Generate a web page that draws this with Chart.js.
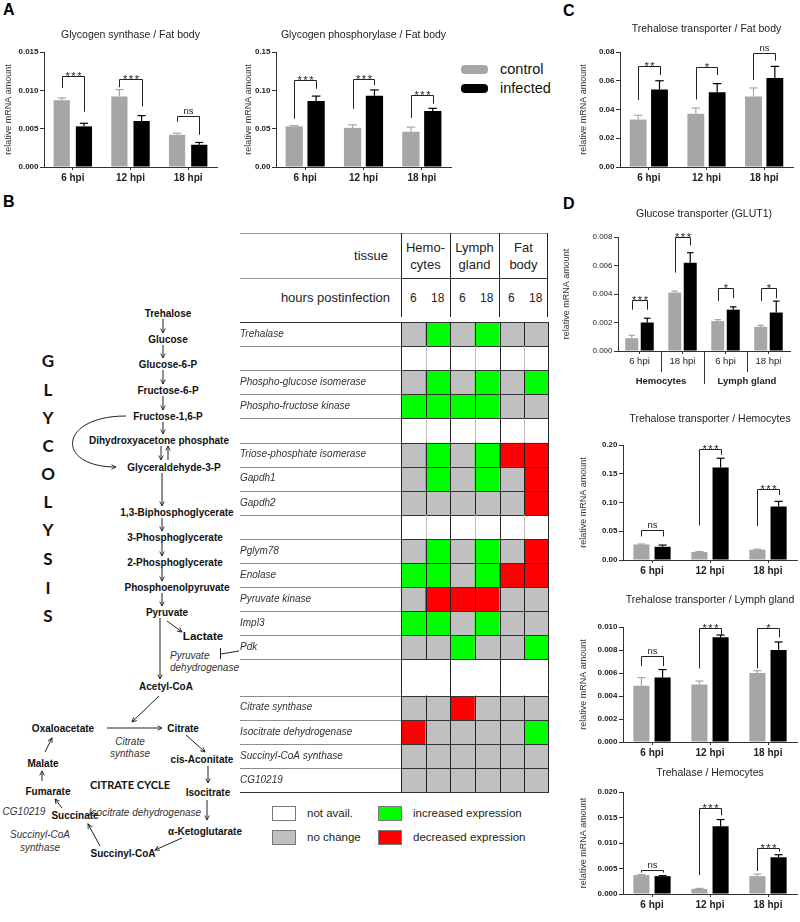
<!DOCTYPE html>
<html>
<head>
<meta charset="utf-8">
<script src="https://cdn.jsdelivr.net/npm/chart.js@4.4.1/dist/chart.umd.min.js"></script>
<style>
  body { margin: 0; background: #fff; }
  #fig { position: relative; width: 800px; height: 922px; overflow: hidden; font-family: 'Liberation Sans', Arial, sans-serif; color: #222; }
  #fig canvas, .abs { position: absolute; }
  .letter { position: absolute; font: bold 16px 'Liberation Sans', Arial, sans-serif; line-height: 16px; color: #000; }
  .t { position: absolute; white-space: nowrap; line-height: 1; }
  .box { position: absolute; box-sizing: border-box; }
</style>
</head>
<body>
<div id="fig">
  <div class="letter" style="left:3px;top:2px">A</div>
  <div class="letter" style="left:3px;top:194px">B</div>
  <div class="letter" style="left:563px;top:3px">C</div>
  <div class="letter" style="left:563px;top:196px">D</div>

  <svg class="abs" style="left:0;top:0" width="270" height="922" font-family="'Liberation Sans', Arial, sans-serif">
    <defs>
      <marker id="ah" viewBox="0 0 8 8" markerWidth="6" markerHeight="6" refX="7" refY="4" orient="auto" markerUnits="userSpaceOnUse">
        <path d="M1,1 L7,4 L1,7" fill="none" stroke="#222" stroke-width="1.2"/>
      </marker>
    </defs>
    <g font-family="Lato, 'Open Sans', sans-serif" font-weight="bold" font-size="17" text-anchor="middle" dominant-baseline="central" fill="#111">
      <text x="48" y="360">G</text><text x="48" y="389">L</text><text x="48" y="417">Y</text>
      <text x="48" y="445">C</text><text x="48" y="473">O</text><text x="48" y="501">L</text>
      <text x="48" y="529">Y</text><text x="48" y="558">S</text><text x="48" y="587">I</text>
      <text x="48" y="615">S</text>
      <text x="130" y="784" font-size="11">CITRATE CYCLE</text>
    </g>
    <g font-weight="bold" font-size="10" text-anchor="middle" dominant-baseline="central" fill="#111">
      <text x="168" y="313">Trehalose</text>
      <text x="168" y="339">Glucose</text>
      <text x="168" y="364">Glucose-6-P</text>
      <text x="168" y="390">Fructose-6-P</text>
      <text x="168" y="416">Fructose-1,6-P</text>
      <text x="159" y="440">Dihydroxyacetone phosphate</text>
      <text x="174" y="467">Glyceraldehyde-3-P</text>
      <text x="177" y="512">1,3-Biphosphoglycerate</text>
      <text x="175" y="537">3-Phosphoglycerate</text>
      <text x="175" y="562">2-Phosphoglycerate</text>
      <text x="177" y="587">Phosphoenolpyruvate</text>
      <text x="167" y="612">Pyruvate</text>
      <text x="203" y="636" font-size="11.5">Lactate</text>
      <text x="166" y="686">Acetyl-CoA</text>
      <text x="63" y="728">Oxaloacetate</text>
      <text x="183" y="728">Citrate</text>
      <text x="202" y="759">cis-Aconitate</text>
      <text x="43" y="763">Malate</text>
      <text x="48" y="791">Fumarate</text>
      <text x="208" y="792">Isocitrate</text>
      <text x="75" y="815">Succinate</text>
      <text x="205" y="831">α-Ketoglutarate</text>
      <text x="123" y="853">Succinyl-CoA</text>
    </g>
    <g font-style="italic" font-size="10" dominant-baseline="central" fill="#333">
      <text x="170" y="655">Pyruvate</text>
      <text x="170" y="667">dehydrogenase</text>
      <g text-anchor="middle">
        <text x="130" y="741">Citrate</text>
        <text x="130" y="753">synthase</text>
        <text x="24" y="811">CG10219</text>
        <text x="145" y="812">Isocitrate dehydrogenase</text>
        <text x="40" y="834">Succinyl-CoA</text>
        <text x="40" y="847">synthase</text>
      </g>
    </g>
    <g stroke="#222" stroke-width="1" fill="none" marker-end="url(#ah)">
      <line x1="163" y1="319" x2="163" y2="333"/>
      <line x1="163" y1="345" x2="163" y2="358"/>
      <line x1="163" y1="370" x2="163" y2="384"/>
      <line x1="163" y1="396" x2="163" y2="410"/>
      <line x1="163" y1="422" x2="163" y2="434"/>
      <line x1="161" y1="446" x2="161" y2="460"/>
      <line x1="168" y1="460" x2="168" y2="446"/>
      <line x1="162" y1="473" x2="162" y2="506"/>
      <line x1="162" y1="518" x2="162" y2="531"/>
      <line x1="162" y1="543" x2="162" y2="556"/>
      <line x1="162" y1="568" x2="162" y2="581"/>
      <line x1="162" y1="593" x2="162" y2="606"/>
      <line x1="167" y1="621" x2="182" y2="632"/>
      <line x1="160" y1="618" x2="160" y2="679"/>
      <line x1="159" y1="696" x2="132" y2="722"/>
      <line x1="107" y1="728" x2="162" y2="728"/>
      <line x1="186" y1="735" x2="205" y2="752"/>
      <line x1="208" y1="766" x2="208" y2="783"/>
      <line x1="207" y1="800" x2="207" y2="820"/>
      <line x1="182" y1="838" x2="155" y2="850"/>
      <line x1="100" y1="846" x2="88" y2="824"/>
      <line x1="62" y1="808" x2="55" y2="799"/>
      <line x1="42" y1="781" x2="42" y2="771"/>
      <line x1="45" y1="752" x2="52" y2="738"/>
      <path d="M126,416 C58,416 55,467 116,467"/>
    </g>
    <g stroke="#222" stroke-width="1">
      <line x1="239" y1="651" x2="221" y2="654"/>
      <line x1="220.5" y1="648" x2="220.5" y2="659"/>
    </g>
  </svg>
</div>

<script>
const FONT = "'Liberation Sans', Arial, sans-serif";
const GRAY = '#a6a6a6';
const BLACK = '#000000';
Chart.defaults.font.family = FONT;
Chart.defaults.animation = false;

// ---------- data: panel A ----------
const hpi = ['6 hpi', '12 hpi', '18 hpi'];

const gsControl = [0.0087, 0.0092, 0.0042];
const gsControlErr = [0.0003, 0.0009, 0.0002];
const gsInfected = [0.0053, 0.0060, 0.0029];
const gsInfectedErr = [0.0004, 0.0007, 0.0003];
const gsSig = ['***', '***', 'ns'];
const gsBracket = [[0.0119, 0.0103, 0.0072], [0.0115, 0.0104, 0.0079], [0.0067, 0.0059, 0.0042]];

const gpControl = [0.053, 0.051, 0.046];
const gpControlErr = [0.001, 0.004, 0.006];
const gpInfected = [0.086, 0.093, 0.073];
const gpInfectedErr = [0.0065, 0.0075, 0.0035];
const gpSig = ['***', '***', '***'];
const gpBracket = [[0.113, 0.063, 0.102], [0.115, 0.076, 0.1065], [0.0935, 0.064, 0.0826]];

// ---------- data: panel C ----------
const ttfControl = [0.033, 0.037, 0.049];
const ttfControlErr = [0.003, 0.004, 0.006];
const ttfInfected = [0.054, 0.052, 0.062];
const ttfInfectedErr = [0.006, 0.006, 0.008];
const ttfSig = ['**', '*', 'ns'];
const ttfBracket = [[0.070, 0.0466, 0.064], [0.0695, 0.047, 0.064], [0.079, 0.0606, 0.074]];

// ---------- data: panel D ----------
const glutGroups = ['6 hpi', '18 hpi', '6 hpi', '18 hpi'];
const glutTissues = ['Hemocytes', 'Lymph gland'];
const glutControl = [0.0009, 0.0041, 0.0021, 0.0017];
const glutControlErr = [0.0002, 0.0001, 0.0001, 0.0001];
const glutInfected = [0.0020, 0.0062, 0.0029, 0.0027];
const glutInfectedErr = [0.0003, 0.0007, 0.0002, 0.0008];
const glutSig = ['***', '***', '*', '*'];
const glutBracket = [[0.0036, 0.0029, 0.0029], [0.0080, 0.0055, 0.0074], [0.0044, 0.0035, 0.0037], [0.0044, 0.0035, 0.0037]];

const tthControl = [0.027, 0.014, 0.018];
const tthControlErr = [0.0008, 0.0008, 0.0008];
const tthInfected = [0.023, 0.161, 0.093];
const tthInfectedErr = [0.003, 0.016, 0.009];
const tthSig = ['ns', '***', '***'];
const tthBracket = [[0.053, 0.041, 0.041], [0.193, 0.06, 0.183], [0.123, 0.059, 0.113]];

const ttlControl = [0.0049, 0.0050, 0.0060];
const ttlControlErr = [0.0007, 0.0003, 0.0002];
const ttlInfected = [0.0056, 0.0091, 0.0080];
const ttlInfectedErr = [0.0007, 0.0002, 0.0007];
const ttlSig = ['ns', '***', '*'];
const ttlBracket = [[0.0075, 0.0066, 0.0066], [0.0099, 0.0064, 0.0093], [0.0099, 0.0064, 0.0091]];

const trhControl = [0.0037, 0.0010, 0.0035];
const trhControlErr = [0.0001, 0.0001, 0.0004];
const trhInfected = [0.0035, 0.0133, 0.0072];
const trhInfectedErr = [0.0001, 0.0013, 0.0005];
const trhSig = ['ns', '***', '***'];
const trhBracket = [[0.0047, 0.0042, 0.0042], [0.0168, 0.0037, 0.0154], [0.0090, 0.0045, 0.0083]];

// ---------- data: panel B heat map ----------
const hmTissues = ['Hemo-\ncytes', 'Lymph\ngland', 'Fat\nbody'];
const hmHours = ['6', '18', '6', '18', '6', '18'];
const hmGenes = ['Trehalase', '', 'Phospho-glucose isomerase', 'Phospho-fructose kinase', '',
  'Triose-phosphate isomerase', 'Gapdh1', 'Gapdh2', '', 'Pglym78', 'Enolase', 'Pyruvate kinase',
  'Impl3', 'Pdk', '', 'Citrate synthase', 'Isocitrate dehydrogenase', 'Succinyl-CoA synthase', 'CG10219'];
// 0 not avail., 1 no change, 2 increased, 3 decreased
const hmStates = [
  [1, 2, 1, 2, 1, 1],
  [0, 0, 0, 0, 0, 0],
  [1, 2, 1, 2, 1, 2],
  [2, 2, 2, 2, 1, 1],
  [0, 0, 0, 0, 0, 0],
  [1, 2, 1, 2, 3, 3],
  [1, 2, 1, 2, 1, 3],
  [1, 1, 1, 1, 1, 3],
  [0, 0, 0, 0, 0, 0],
  [1, 2, 1, 2, 1, 3],
  [2, 2, 1, 2, 3, 3],
  [1, 3, 3, 3, 1, 1],
  [2, 2, 1, 2, 1, 1],
  [1, 1, 2, 1, 1, 2],
  [0, 0, 0, 0, 0, 0],
  [1, 1, 3, 1, 1, 1],
  [3, 1, 1, 1, 1, 2],
  [1, 1, 1, 1, 1, 1],
  [1, 1, 1, 1, 1, 1]
];
const hmLegend = ['not avail.', 'no change', 'increased expression', 'decreased expression'];
const HM_COLORS = ['#ffffff', '#c0c0c0', '#00ff00', '#ff0000'];
const HM_GAP_ROW = 14;

const fig = document.getElementById('fig');

function addCanvas(left, top, w, h) {
  const c = document.createElement('canvas');
  c.width = w; c.height = h;
  c.style.left = left + 'px'; c.style.top = top + 'px';
  fig.appendChild(c);
  return c;
}

function addText(text, css) {
  const d = document.createElement('div');
  d.className = 't';
  d.style.cssText = css;
  d.textContent = text;
  fig.appendChild(d);
  return d;
}

function stroke(ctx, x1, y1, x2, y2) {
  ctx.beginPath(); ctx.moveTo(x1, y1); ctx.lineTo(x2, y2); ctx.stroke();
}

const TITLE_SIZE = 10.5;

function barPanel(g, d) {
  const titleLH = TITLE_SIZE * 1.2;
  const top = Math.round(g.titleY - titleLH / 2);
  const w = g.chartRight - g.left + 2;
  const h = g.chartBottom - top + g.xAxisH + (g.x2H || 0);
  const canvas = addCanvas(g.left, top, w, h);

  const errorBars = {
    id: 'errorBars',
    afterDatasetsDraw(chart) {
      const { ctx, scales: { y } } = chart;
      ctx.save();
      ctx.lineWidth = 1.2;
      [d.controlErr, d.infectedErr].forEach((errs, i) => {
        ctx.strokeStyle = i ? BLACK : GRAY;
        chart.getDatasetMeta(i).data.forEach((bar, j) => {
          const v = chart.data.datasets[i].data[j];
          const py = y.getPixelForValue(v + errs[j]);
          const hw = bar.width / 4;
          stroke(ctx, bar.x, bar.y, bar.x, py);
          stroke(ctx, bar.x - hw, py, bar.x + hw, py);
        });
      });
      ctx.restore();
    }
  };

  const brackets = {
    id: 'brackets',
    afterDatasetsDraw(chart) {
      const { ctx, scales: { y } } = chart;
      const a = chart.getDatasetMeta(0).data, b = chart.getDatasetMeta(1).data;
      ctx.save();
      ctx.strokeStyle = '#222'; ctx.fillStyle = '#222'; ctx.lineWidth = 1;
      ctx.textAlign = 'center'; ctx.textBaseline = 'alphabetic';
      d.brackets.forEach(([t, l, r], i) => {
        const yt = Math.round(y.getPixelForValue(t)) + 0.5;
        const xl = Math.round(a[i].x) + 0.5, xr = Math.round(b[i].x) + 0.5;
        ctx.beginPath();
        ctx.moveTo(xl, y.getPixelForValue(l)); ctx.lineTo(xl, yt);
        ctx.lineTo(xr, yt); ctx.lineTo(xr, y.getPixelForValue(r));
        ctx.stroke();
        const s = d.sig[i];
        if (s === 'ns') {
          ctx.font = `9.5px ${FONT}`;
          ctx.letterSpacing = '0px';
          ctx.fillText(s, (xl + xr) / 2, yt - 2.5);
        } else {
          ctx.font = `11px ${FONT}`;
          ctx.letterSpacing = '1.5px';
          ctx.fillText(s, (xl + xr) / 2 + 0.75, yt + 3);
        }
      });
      ctx.restore();
    }
  };

  const plugins = [errorBars, brackets];
  if (d.separators) plugins.push(d.separators);

  const scales = {
    x: {
      offset: true,
      ticks: { font: { size: d.xSize || 10, weight: d.xBold ? 'bold' : 'normal', family: FONT }, color: '#222', padding: 2, autoSkip: false, maxRotation: 0 },
      grid: { drawOnChartArea: false, offset: false, tickLength: 3, color: '#333' },
      border: { color: '#333', width: 1 },
      afterFit: s => { s.height = g.xAxisH; }
    },
    y: {
      min: 0, max: d.yMax,
      ticks: { stepSize: d.yStep, callback: v => v.toFixed(d.digits), font: { size: 8, weight: d.yBold ? 'bold' : 'normal', family: FONT }, color: '#222', padding: 1.5 },
      grid: { drawOnChartArea: false, tickLength: 4, color: '#333' },
      border: { color: '#333', width: 1 },
      title: { display: true, text: 'relative mRNA amount', font: { size: 9, family: FONT }, color: '#333', padding: { top: 3, bottom: 0 } },
      afterFit: s => { s.width = g.chartLeft - g.left; }
    }
  };
  if (d.tissues) {
    scales.x2 = {
      type: 'category', labels: d.tissues, position: 'bottom', weight: 1, offset: true,
      grid: { display: false, drawTicks: false }, border: { display: false },
      ticks: { font: { size: 9.5, weight: 'bold', family: FONT }, color: '#222', padding: 5 },
      afterFit: s => { s.height = g.x2H; }
    };
  }

  return new Chart(canvas, {
    type: 'bar',
    data: {
      labels: d.labels,
      datasets: [
        { label: 'control', data: d.control, backgroundColor: GRAY },
        { label: 'infected', data: d.infected, backgroundColor: BLACK }
      ]
    },
    options: {
      responsive: false,
      events: [],
      categoryPercentage: d.catPct,
      barPercentage: d.barPct,
      layout: { padding: { left: 0, right: 2, top: 0, bottom: 0 } },
      plugins: {
        legend: { display: false },
        tooltip: { enabled: false },
        title: {
          display: true, text: d.title, fullSize: false, color: '#222',
          font: { size: TITLE_SIZE, weight: 'normal', family: FONT },
          padding: { top: 0, bottom: g.chartTop - top - titleLH }
        }
      },
      scales
    },
    plugins
  });
}

// ---------- panel A ----------
barPanel(
  { left: 0, chartLeft: 44, chartRight: 217, titleY: 35, chartTop: 52, chartBottom: 167, xAxisH: 20 },
  { title: 'Glycogen synthase / Fat body', labels: hpi, control: gsControl, controlErr: gsControlErr,
    infected: gsInfected, infectedErr: gsInfectedErr, sig: gsSig, brackets: gsBracket,
    yMax: 0.015, yStep: 0.005, digits: 3, yBold: true, xBold: true, catPct: 0.77, barPct: 0.73 });

barPanel(
  { left: 240, chartLeft: 276, chartRight: 451, titleY: 35, chartTop: 52, chartBottom: 167, xAxisH: 20 },
  { title: 'Glycogen phosphorylase / Fat body', labels: hpi, control: gpControl, controlErr: gpControlErr,
    infected: gpInfected, infectedErr: gpInfectedErr, sig: gpSig, brackets: gpBracket,
    yMax: 0.15, yStep: 0.05, digits: 2, yBold: true, xBold: true, catPct: 0.75, barPct: 0.79 });

// legend for A
[['control', GRAY, 69], ['infected', BLACK, 88]].forEach(([name, col, cy]) => {
  const b = document.createElement('div');
  b.className = 'box';
  b.style.cssText = `left:461px;top:${cy - 4}px;width:27px;height:9px;border-radius:4px;background:${col}`;
  fig.appendChild(b);
  addText(name, `left:500px;top:${cy - 8}px;font-size:14.5px;line-height:16px;color:#111`);
});

// ---------- panel C ----------
barPanel(
  { left: 575, chartLeft: 620, chartRight: 793, titleY: 29, chartTop: 52, chartBottom: 167, xAxisH: 20 },
  { title: 'Trehalose transporter / Fat body', labels: hpi, control: ttfControl, controlErr: ttfControlErr,
    infected: ttfInfected, infectedErr: ttfInfectedErr, sig: ttfSig, brackets: ttfBracket,
    yMax: 0.08, yStep: 0.02, digits: 2, yBold: true, xBold: true, catPct: 0.74, barPct: 0.79 });

// ---------- panel D ----------
const glutSeparators = {
  id: 'glutSeparators',
  afterDraw(chart) {
    const { ctx, chartArea: a, scales: { x } } = chart;
    ctx.save();
    ctx.strokeStyle = '#333'; ctx.lineWidth = 1;
    for (let k = 1; k < glutGroups.length; k++) {
      const px = Math.round(x.getPixelForValue(k - 0.5)) + 0.5;
      const len = k === 2 ? 33 : 21;
      stroke(ctx, px, a.bottom, px, a.bottom + len);
    }
    ctx.restore();
  }
};

barPanel(
  { left: 558, chartLeft: 618, chartRight: 790, titleY: 214, chartTop: 237, chartBottom: 351, xAxisH: 20, x2H: 20 },
  { title: 'Glucose transporter (GLUT1)', labels: glutGroups, tissues: glutTissues,
    control: glutControl, controlErr: glutControlErr, infected: glutInfected, infectedErr: glutInfectedErr,
    sig: glutSig, brackets: glutBracket, separators: glutSeparators,
    yMax: 0.008, yStep: 0.002, digits: 3, yBold: false, xBold: false, xSize: 9.5, catPct: 0.72, barPct: 0.84 });

barPanel(
  { left: 575, chartLeft: 623, chartRight: 797, titleY: 419, chartTop: 445, chartBottom: 560, xAxisH: 20 },
  { title: 'Trehalose transporter / Hemocytes', labels: hpi, control: tthControl, controlErr: tthControlErr,
    infected: tthInfected, infectedErr: tthInfectedErr, sig: tthSig, brackets: tthBracket,
    yMax: 0.20, yStep: 0.05, digits: 2, yBold: true, xBold: true, catPct: 0.73, barPct: 0.76 });

barPanel(
  { left: 575, chartLeft: 623, chartRight: 797, titleY: 600, chartTop: 627, chartBottom: 742, xAxisH: 20 },
  { title: 'Trehalose transporter / Lymph gland', labels: hpi, control: ttlControl, controlErr: ttlControlErr,
    infected: ttlInfected, infectedErr: ttlInfectedErr, sig: ttlSig, brackets: ttlBracket,
    yMax: 0.010, yStep: 0.002, digits: 3, yBold: true, xBold: true, catPct: 0.73, barPct: 0.76 });

barPanel(
  { left: 575, chartLeft: 623, chartRight: 797, titleY: 773, chartTop: 792, chartBottom: 894, xAxisH: 22 },
  { title: 'Trehalase / Hemocytes', labels: hpi, control: trhControl, controlErr: trhControlErr,
    infected: trhInfected, infectedErr: trhInfectedErr, sig: trhSig, brackets: trhBracket,
    yMax: 0.020, yStep: 0.005, digits: 3, yBold: true, xBold: true, catPct: 0.73, barPct: 0.76 });

// ---------- panel B: heat map header ----------
const HM_LEFT = 240, HM_LABEL_W = 161, HM_CELL = 24.5, HM_HEAD_TOP = 233;
function hline(x, y, w, col) {
  const d = document.createElement('div'); d.className = 'box';
  d.style.cssText = `left:${x}px;top:${y}px;width:${w}px;height:1px;background:${col}`;
  fig.appendChild(d);
}
function vline(x, y, h, col) {
  const d = document.createElement('div'); d.className = 'box';
  d.style.cssText = `left:${x}px;top:${y}px;width:1px;height:${h}px;background:${col}`;
  fig.appendChild(d);
}
const cellsLeft = HM_LEFT + HM_LABEL_W;
const cellsW = HM_CELL * hmHours.length;
hline(HM_LEFT, HM_HEAD_TOP, HM_LABEL_W + cellsW, '#999');
hline(HM_LEFT, 278, HM_LABEL_W, '#999');
hline(cellsLeft, 278, cellsW, '#333');
for (let k = 0; k <= hmTissues.length; k++) vline(Math.round(cellsLeft + k * 2 * HM_CELL) - (k === hmTissues.length ? 1 : 0), HM_HEAD_TOP, 84, '#222');
addText('tissue', `left:${HM_LEFT}px;width:148px;text-align:right;top:249px;font-size:13px;color:#222`);
addText('hours postinfection', `left:${HM_LEFT}px;width:150px;text-align:right;top:291px;font-size:13px;color:#222`);
hmTissues.forEach((t, k) => {
  const el = addText('', `left:${cellsLeft + k * 2 * HM_CELL}px;width:${2 * HM_CELL}px;text-align:center;top:240px;font-size:13px;line-height:16.5px;white-space:pre;color:#222`);
  el.textContent = t;
});
hmHours.forEach((h, k) => {
  addText(h, `left:${cellsLeft + k * HM_CELL}px;width:${HM_CELL}px;text-align:center;top:292px;font-size:12px;color:#222`);
});

// ---------- panel B: heat map cells ----------
const hmWeights = hmGenes.map((_, r) => (r === HM_GAP_ROW ? 1.5 : 1));
const hmEdges = [0];
hmWeights.forEach(w => hmEdges.push(hmEdges[hmEdges.length - 1] + w));
const hmCenters = hmWeights.map((w, r) => hmEdges[r] + w / 2);

const hmGrid = {
  id: 'hmGrid',
  afterDatasetsDraw(chart) {
    const { ctx, chartArea: a, scales: { x, y } } = chart;
    ctx.save();
    ctx.lineWidth = 1;
    hmEdges.forEach((e, k) => {
      const py = Math.round(y.getPixelForValue(e)) + 0.5;
      const outer = k === 0 || k === hmEdges.length - 1;
      ctx.strokeStyle = outer ? '#333' : '#8c8c8c';
      stroke(ctx, 0, py, a.left, py);
      ctx.strokeStyle = '#333';
      stroke(ctx, a.left, py, a.right, py);
    });
    hmStates.forEach((row, r) => {
      const y0 = y.getPixelForValue(hmEdges[r]), y1 = y.getPixelForValue(hmEdges[r + 1]);
      const blank = row.every(s => s === 0);
      for (let c = 0; c <= hmHours.length; c++) {
        const tissueEdge = c % 2 === 0;
        if (!tissueEdge && r === HM_GAP_ROW) continue;
        let px = Math.round(x.getPixelForValue(c - 0.5)) + 0.5;
        if (c === hmHours.length) px -= 1;
        ctx.strokeStyle = tissueEdge || !blank ? '#222' : '#bdbdbd';
        stroke(ctx, px, y0, px, y1);
      }
    });
    ctx.restore();
  }
};

new Chart(addCanvas(HM_LEFT, 316, HM_LABEL_W + cellsW + 1, 482), {
  type: 'bar',
  data: {
    labels: hmHours,
    datasets: hmGenes.map((g, r) => ({
      label: g,
      data: hmHours.map(() => [hmEdges[r], hmEdges[r + 1]]),
      backgroundColor: hmStates[r].map(s => HM_COLORS[s]),
      borderWidth: 0,
      grouped: false,
      barPercentage: 1,
      categoryPercentage: 1
    }))
  },
  options: {
    responsive: false,
    events: [],
    layout: { padding: { left: 0, right: 0, top: 1, bottom: 1 } },
    plugins: { legend: { display: false }, tooltip: { enabled: false } },
    scales: {
      x: { display: false },
      y: {
        reverse: true, min: 0, max: hmEdges[hmEdges.length - 1],
        grid: { display: false }, border: { display: false },
        afterBuildTicks: s => { s.ticks = hmCenters.map(v => ({ value: v })); },
        afterFit: s => { s.width = HM_LABEL_W; },
        ticks: {
          autoSkip: false, crossAlign: 'far', padding: 0, color: '#333',
          font: { size: 10, style: 'italic', family: FONT },
          callback: (v, i) => hmGenes[i]
        }
      }
    }
  },
  plugins: [hmGrid]
});

// heat map legend
hmLegend.forEach((name, k) => {
  const bx = k < 2 ? 272 : 378;
  const by = k % 2 === 0 ? 806 : 830;
  const b = document.createElement('div');
  b.className = 'box';
  b.style.cssText = `left:${bx}px;top:${by}px;width:24px;height:15px;background:${HM_COLORS[k]};border:1px solid #777`;
  fig.appendChild(b);
  addText(name, `left:${bx + 35}px;top:${by + 2}px;font-size:11.5px;color:#222`);
});
</script>
</body>
</html>
